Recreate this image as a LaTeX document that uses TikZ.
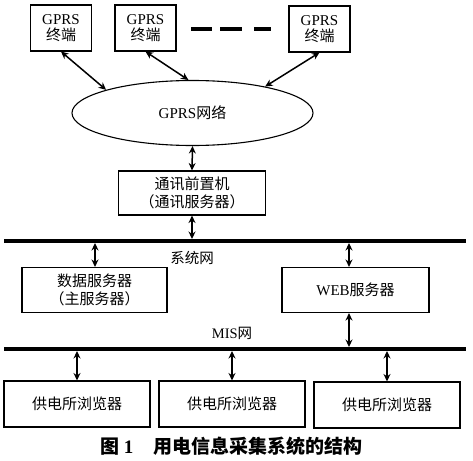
\documentclass[tikz,border=0pt]{standalone}
\usepackage{fontspec}
\setmainfont{Liberation Serif}
\newfontfamily\cjk{Noto Sans CJK SC}
\usetikzlibrary{shapes.geometric,arrows.meta}
\begin{document}
\begin{tikzpicture}[x=1pt,y=-1pt,
  box/.style={draw,line width=1.1pt,inner sep=0pt,align=center,font=\fontsize{15}{17.5}\selectfont},
  term/.style={box,minimum width=61pt,minimum height=46pt},
  wide/.style={box,minimum width=146pt,minimum height=45pt},
  link/.style={line width=1.5pt,{Stealth[length=7.5pt,width=7pt]}-{Stealth[length=7.5pt,width=7pt]}},
  bus/.style={line width=4.8pt},
  lbl/.style={inner sep=0pt,font=\fontsize{14.5}{16}\selectfont}]
\useasboundingbox (0,0) rectangle (473,460);
% terminals
\node[term] (g1) at (61,28) {GPRS\\[-1pt]{\cjk 终端}};
\node[term] (g2) at (145.5,28) {GPRS\\[-1pt]{\cjk 终端}};
\node[term] (g3) at (319.5,29) {GPRS\\[-1pt]{\cjk 终端}};
\draw[line width=4.6pt] (191,29) -- (212,29);
\draw[line width=4.6pt] (220,29) -- (242,29);
\draw[line width=4.6pt] (254,29) -- (271,29);
% GPRS network
\node[ellipse,draw,line width=1.1pt,minimum width=241pt,minimum height=65pt,inner sep=0pt,
  font=\fontsize{15}{17.5}\selectfont] (gprs) at (192.5,113) {GPRS{\cjk 网络}};
\draw[link] (g1.south) -- (gprs.165);
\draw[link] (g2.south) -- (gprs.97);
\draw[link] (g3.south) -- (gprs.20);
% front-end
\node[box,minimum width=147pt,minimum height=44pt] (comm) at (192,193) {{\cjk 通讯前置机}\\{\cjk （通讯服务器）}};
\draw[link] (gprs.south) -- (comm.north);
% system bus
\coordinate (b1l) at (4,241);
\coordinate (b1r) at (466,241);
\draw[bus] (b1l) -- (b1r);
\coordinate (b1c) at (192,239);
\coordinate (b1d) at (95,243);
\coordinate (b1w) at (349,243);
\draw[link] (comm.south) -- (b1c);
\node[lbl] (sys) at (192,258) {\cjk 系统网};
% servers
\node[wide,minimum width=145pt] (data) at (94.5,290) {{\cjk 数据服务器}\\{\cjk （主服务器）}};
\node[wide,minimum width=147pt] (web) at (355.5,290) {WEB{\cjk 服务器}};
\draw[link] (b1d) -- (b1d |- data.north);
\draw[link] (b1w) -- (b1w |- web.north);
% MIS bus
\coordinate (b2l) at (4,349);
\coordinate (b2r) at (466,349);
\draw[bus] (b2l) -- (b2r);
\coordinate (b2w) at (349,347);
\draw[link] (b2w |- web.south) -- (b2w);
\node[lbl] (mis) at (232,333) {MIS{\cjk 网}};
% browsers
\node[wide,minimum height=46pt] (p1) at (77,404) {\cjk 供电所浏览器};
\node[wide,minimum height=46pt] (p2) at (232,404) {\cjk 供电所浏览器};
\node[wide,minimum height=46pt] (p3) at (387,405) {\cjk 供电所浏览器};
\coordinate (b2a) at (77,351);
\coordinate (b2b) at (232,351);
\coordinate (b2c) at (387,351);
\draw[link] (b2a) -- (p1.north);
\draw[link] (b2b) -- (p2.north);
\draw[link] (b2c) -- (p3.north);
% caption
\node[inner sep=0pt,anchor=west,font=\fontsize{19}{21}\selectfont\bfseries] (cap) at (100,446) {{\cjk 图} 1\hspace{20pt}{\cjk 用电信息采集系统的结构}};
\end{tikzpicture}
\end{document}
